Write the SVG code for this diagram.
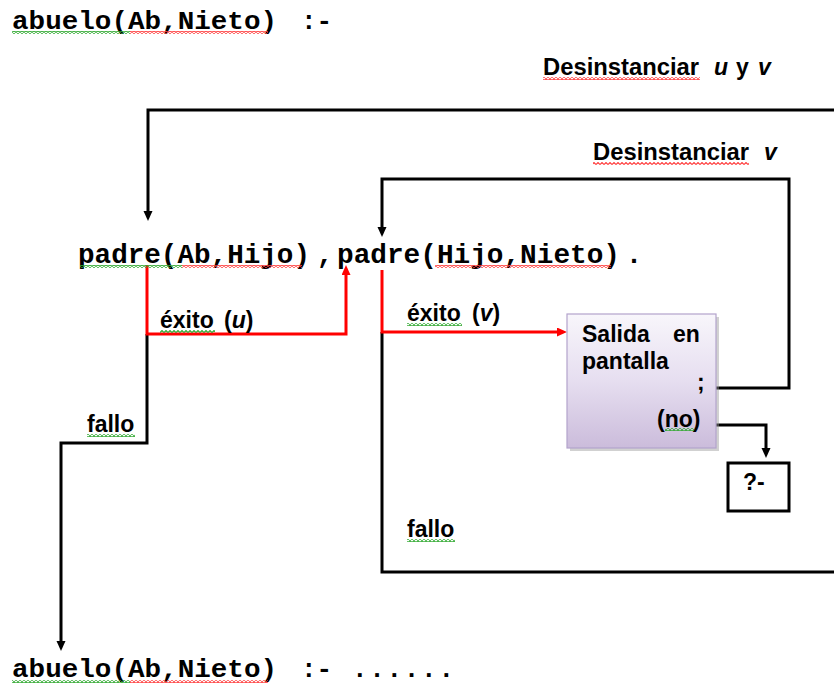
<svg xmlns="http://www.w3.org/2000/svg" width="834" height="686" viewBox="0 0 834 686">
<style>
.code{font-family:"Liberation Mono","Courier New",monospace;font-weight:bold;fill:#000}
.lbl{font-family:"Liberation Sans",Arial,sans-serif;font-weight:bold;font-size:23px;fill:#000}
.it{font-style:italic}
.k{fill:none;stroke:#000;stroke-width:3}
.r{fill:none;stroke:#ff0000;stroke-width:3}
</style>
<defs>
<marker id="ak" markerUnits="userSpaceOnUse" markerWidth="10" markerHeight="10" refX="0" refY="4.5" orient="auto"><path d="M0,0 L10,4.5 L0,9 z" fill="#000"/></marker>
<marker id="ar" markerUnits="userSpaceOnUse" markerWidth="10" markerHeight="10" refX="0" refY="4.5" orient="auto"><path d="M0,0 L10,4.5 L0,9 z" fill="#ff0000"/></marker>
<linearGradient id="boxg" x1="0" y1="0" x2="0" y2="1"><stop offset="0" stop-color="#f8f6fb"/><stop offset="0.5" stop-color="#e6def0"/><stop offset="1" stop-color="#cbbcdb"/></linearGradient>
<pattern id="wr" width="4" height="3" patternUnits="userSpaceOnUse"><path d="M0,2.5 L2,0.5 L4,2.5" fill="none" stroke="#ff3b3b" stroke-width="1.1"/></pattern>
<pattern id="wg" width="4" height="3" patternUnits="userSpaceOnUse"><path d="M0,2.5 L2,0.5 L4,2.5" fill="none" stroke="#2ea82e" stroke-width="1.1"/></pattern>
</defs>

<g id="connectors">
<path class="k" d="M834,110 H148 V211" marker-end="url(#ak)"/>
<path class="k" d="M705,388 H789 V179 H382 V227" marker-end="url(#ak)"/>
<path class="k" d="M147,334 V443 H61 V641" marker-end="url(#ak)"/>
<path class="k" d="M382,332 V572 H834"/>
<path class="k" d="M705,425 H766 V448" marker-end="url(#ak)"/>
<path class="r" d="M147,265 V334 H346 V275" marker-end="url(#ar)"/>
<path class="r" d="M382,270 V332 H557" marker-end="url(#ar)"/>
</g>

<g id="head">
<text class="code" x="12" y="29" font-size="26" textLength="265" lengthAdjust="spacingAndGlyphs">abuelo(Ab,Nieto)</text>
<text class="code" x="301" y="29" font-size="26">:-</text>
<rect x="12" y="31" width="118" height="3" fill="url(#wg)"/>
<rect x="130" y="31" width="138" height="3" fill="url(#wr)"/>
</g>

<g id="body">
<text class="code" x="78" y="263" font-size="27.5" textLength="232" lengthAdjust="spacingAndGlyphs">padre(Ab,Hijo)</text>
<text class="code" x="325" y="263" font-size="27.5" text-anchor="middle">,</text>
<text class="code" x="337" y="263" font-size="27.5" textLength="283" lengthAdjust="spacingAndGlyphs">padre(Hijo,Nieto)</text>
<text class="code" x="634" y="263" font-size="27.5" text-anchor="middle">.</text>
<rect x="80" y="265" width="102" height="3" fill="url(#wg)"/>
<rect x="182" y="265" width="120" height="3" fill="url(#wr)"/>
<rect x="435" y="265" width="176" height="3" fill="url(#wr)"/>
</g>

<g id="desinst-uv">
<text class="lbl" x="543" y="75" textLength="156" lengthAdjust="spacingAndGlyphs">Desinstanciar</text>
<text class="lbl it" x="714" y="75">u</text>
<text class="lbl" x="736" y="75">y</text>
<text class="lbl it" x="758" y="75">v</text>
<rect x="543" y="77" width="157" height="3" fill="url(#wr)"/>
</g>

<g id="desinst-v">
<text class="lbl" x="593" y="160" textLength="156" lengthAdjust="spacingAndGlyphs">Desinstanciar</text>
<text class="lbl it" x="764" y="160">v</text>
<rect x="593" y="162" width="156" height="3" fill="url(#wr)"/>
</g>

<g id="exito-u">
<text class="lbl" x="160" y="328">éxito</text>
<text class="lbl" x="224" y="328">(<tspan class="it">u</tspan>)</text>
<rect x="160" y="330" width="55" height="3" fill="url(#wg)"/>
</g>

<g id="exito-v">
<text class="lbl" x="407" y="321">éxito</text>
<text class="lbl" x="472" y="321">(<tspan class="it">v</tspan>)</text>
<rect x="407" y="323" width="55" height="3" fill="url(#wg)"/>
</g>

<g id="fallo-1">
<text class="lbl" x="87" y="432">fallo</text>
<rect x="87" y="434" width="48" height="3" fill="url(#wg)"/>
</g>

<g id="fallo-2">
<text class="lbl" x="407" y="537">fallo</text>
<rect x="407" y="539" width="48" height="3" fill="url(#wg)"/>
</g>

<g id="salida">
<rect x="570" y="317" width="149" height="134" fill="#9a9a9a" opacity="0.45"/>
<rect x="567" y="314" width="149" height="134" fill="url(#boxg)" stroke="#b3a3cc" stroke-width="1.2"/>
<text class="lbl" x="582" y="342">Salida</text>
<text class="lbl" x="673" y="342">en</text>
<text class="lbl" x="582" y="369">pantalla</text>
<text class="lbl" x="697" y="390">;</text>
<text class="lbl" x="657" y="427">(no)</text>
<rect x="665" y="428" width="29" height="3" fill="url(#wg)"/>
</g>

<g id="prompt">
<rect x="728" y="463" width="61" height="48" fill="#fff" stroke="#000" stroke-width="3"/>
<text class="lbl" x="743" y="490">?-</text>
</g>

<g id="tail">
<text class="code" x="12" y="677" font-size="26" textLength="265" lengthAdjust="spacingAndGlyphs">abuelo(Ab,Nieto)</text>
<text class="code" x="301" y="677" font-size="26">:-</text>
<text class="code" x="352" y="677" font-size="26" textLength="102" lengthAdjust="spacing">......</text>
<rect x="12" y="680" width="118" height="3" fill="url(#wg)"/>
<rect x="130" y="680" width="138" height="3" fill="url(#wr)"/>
</g>
</svg>
